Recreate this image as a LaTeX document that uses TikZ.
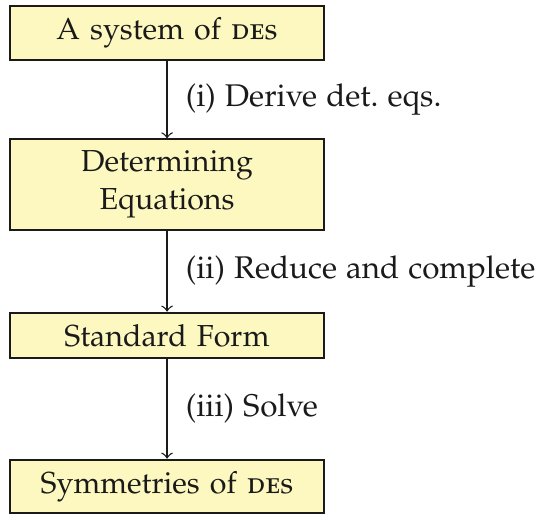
\documentclass[tikz,border=0pt]{standalone}
\usepackage[T1]{fontenc}
\usepackage[sc]{mathpazo}
\definecolor{ink}{HTML}{1A1A1A}
\definecolor{pad}{HTML}{FDF8C0}

\begin{document}
\begin{tikzpicture}[
    >=to, color=ink, font=\fontsize{9.2pt}{11.4pt}\selectfont,
    stage/.style={draw=ink, fill=pad, line width=0.6pt, text width=3.1cm,
                  align=center, minimum width=3.344cm, inner sep=3.5pt},
    lab/.style={right, text=ink, inner sep=5.5pt, font=\fontsize{9.5pt}{11.4pt}\selectfont}]
  % fixed canvas, same proportions as the target
  \path[use as bounding box] (0,0) rectangle (5.751,5.474);

  % ================= the four stages =================
  \node[stage] (sys)  at (1.779,5.123) {A system of \textsc{de}s};
  \node[stage] (det)  at (1.779,3.509) {Determining\\Equations};
  \node[stage] (std)  at (1.779,1.901) {Standard Form};
  \node[stage] (sym)  at (1.779,0.293) {Symmetries of \textsc{de}s};

  % ================= steps between them =================
  \draw[->] (sys) -- node[lab] {(i) Derive det.\ eqs.} (det);
  \draw[->] (det) -- node[lab] {(ii) Reduce and complete} (std);
  \draw[->] (std) -- node[lab] {(iii) Solve} (sym);
\end{tikzpicture}
\end{document}
